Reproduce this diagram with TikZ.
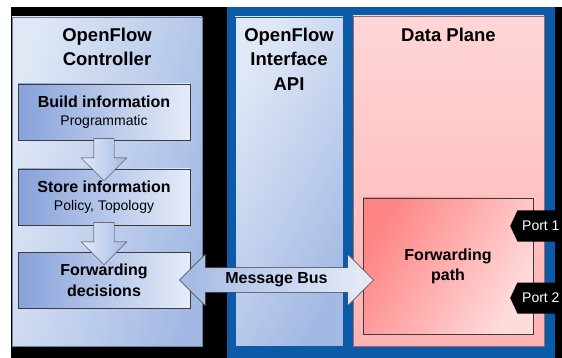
\documentclass[tikz,border=0pt]{standalone}
\usepackage{fontspec}
\setmainfont{Liberation Sans}
\usetikzlibrary{positioning,calc,shapes.arrows,shapes.symbols}

\definecolor{frameblue}{HTML}{0C5BA8}
\definecolor{ctlLight}{HTML}{E0E8F6}
\definecolor{ctlDark}{HTML}{A3B9E4}
\definecolor{boxDark}{HTML}{86A1DA}
\definecolor{boxLight}{HTML}{E6ECF8}
\definecolor{planeTop}{HTML}{FFD6D6}
\definecolor{planeBot}{HTML}{FFB2B2}
\definecolor{pathDark}{HTML}{FF8585}
\definecolor{pathLight}{HTML}{FFDCDC}
\definecolor{edgegray}{HTML}{3C3C3C}

\tikzset{
    %Define style for the big panels
    panel/.style={
           rectangle,
           inner sep=0pt,
           draw=#1, thin},
    %Define style for panel titles
    title/.style={
           inner sep=0pt,
           align=center,
           font=\fontsize{18.5}{24.5}\selectfont\bfseries},
    %Define style for boxes
    infobox/.style={
           rectangle,
           draw=edgegray, thin,
           left color=boxDark, right color=boxLight,
           minimum width=172pt,
           minimum height=56pt,
           inner sep=0pt,
           align=center,
           font=\fontsize{14}{17.5}\selectfont},
    % Define block arrow styles
    downarrow/.style={
           single arrow,
           draw=edgegray, thin,
           left color=boxLight, right color=ctlDark,
           rotate=-90,
           inner sep=10pt,
           single arrow head extend=12.5pt,
           minimum height=42pt},
    busarrow/.style={
           double arrow,
           draw=edgegray, thin,
           left color=ctlDark, right color=boxLight,
           inner xsep=2pt, inner ysep=5pt,
           double arrow head extend=13.5pt,
           minimum height=194pt,
           font=\fontsize{16}{18}\selectfont\bfseries},
    % Define port tag style
    port/.style={
           signal, signal to=west,
           signal pointer angle=130,
           fill=black, text=white,
           minimum height=31pt,
           minimum width=54pt,
           inner xsep=4pt,
           font=\fontsize{14}{16}\selectfont}
}

\begin{document}
\begin{tikzpicture}[x=1pt, y=-1pt, node distance=10pt]
 \useasboundingbox (0,0) rectangle (562,358);
 \fill[white] (0,0) rectangle (562,358);
 \fill[black] (11,7) rectangle (562,358);
 \fill[frameblue] (227,7) rectangle (555,358);

 % controller side
 \node[panel=ctlDark!70!black, minimum width=190pt, minimum height=329pt,
       left color=ctlLight, right color=ctlDark, shading angle=75] (ctrl) at (107,181.5) {};
 \node[title, below=11pt of ctrl.north] (ctrltitle) {OpenFlow\\Controller};
 \node[infobox] (build) at (104,112) {{\fontsize{16}{17.5}\selectfont\bfseries Build information}\\Programmatic};
 \node[infobox] (store) at (104,197) {{\fontsize{16}{17.5}\selectfont\bfseries Store information}\\Policy, Topology};
 \node[infobox, font=\fontsize{16}{21}\selectfont\bfseries] (fwd) at (104,280) {Forwarding\\decisions};
 \node[downarrow] (arr1) at ($(build.south)!0.5!(store.north)$) {};
 \node[downarrow] (arr2) at ($(store.south)!0.5!(fwd.north)$) {};

 % interface API
 \node[panel=frameblue, minimum width=108pt, minimum height=329pt,
       left color=ctlLight, right color=ctlDark, shading angle=60] (api) at (289,181.5) {};
 \node[title, below=11pt of api.north] (apititle) {OpenFlow\\Interface\\API};

 % data plane
 \node[panel=planeBot!60!black, minimum width=191pt, minimum height=330pt,
       top color=planeTop, bottom color=planeBot] (dplane) at (448.5,181) {};
 \node[title, below=12pt of dplane.north] (dtitle) {Data Plane};
 \node[panel=edgegray, minimum width=170pt, minimum height=136pt,
       left color=pathDark, right color=pathLight, shading angle=60,
       align=center, font=\fontsize{16}{20}\selectfont\bfseries] (fpath) at (448,266) {Forwarding\\path};

 \node[busarrow] (bus) at ($(fwd.east)!0.5!(fwd.east -| fpath.west)$) {Message Bus};

 \node[port, anchor=west] (port1) at (510,226) {Port 1};
 \node[port, anchor=west] (port2) at (510,298) {Port 2};
\end{tikzpicture}
\end{document}
